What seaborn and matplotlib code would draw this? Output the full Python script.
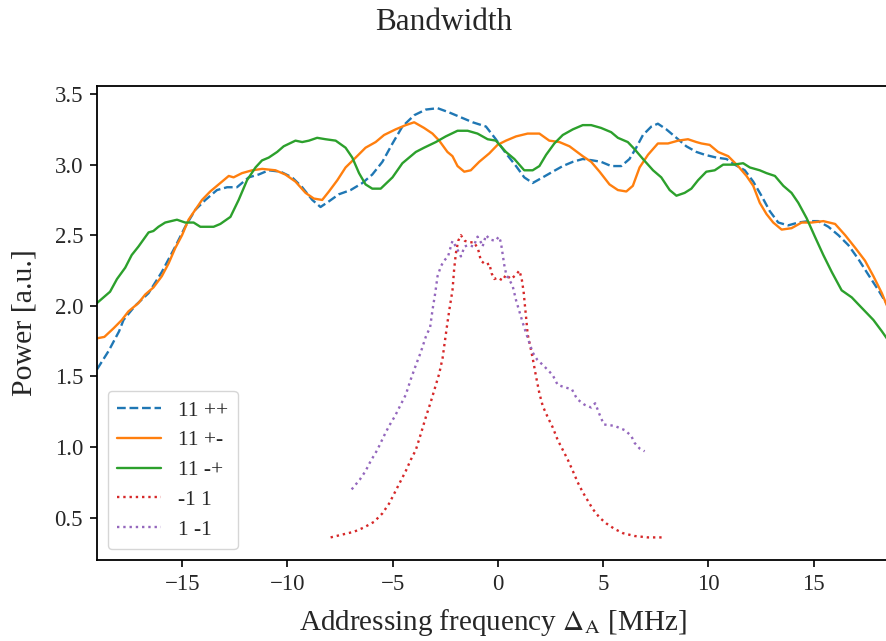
import numpy as np
import pandas as pd
import matplotlib
matplotlib.use("Agg")
import matplotlib.pyplot as plt
import seaborn as sns

# ---- data ----
x_pp = [-19.05, -18.5, -18.0, -17.79, -17.24, -16.6, -15.97, -15.33, -14.86, -14.38, -13.9, -13.35,
        -12.87, -12.4, -11.84, -11.37, -10.89, -10.33, -9.78, -9.3, -8.82, -8.43, -8.03, -7.56,
        -7.0, -6.44, -5.97, -5.49, -5.01, -4.54, -3.98, -3.43, -2.87, -2.32, -1.68, -1.2, -0.57,
        -0.1, 0.38, 0.86, 1.25, 1.65, 2.13, 2.6, 3.08, 3.56, 4.03, 4.51, 4.9, 5.38, 5.86, 6.25,
        6.57, 6.89, 7.29, 7.6, 8.0, 8.48, 8.95, 9.43, 9.83, 10.38, 10.86, 11.25, 11.73, 12.13,
        12.52, 12.92, 13.32, 13.79, 14.27, 14.75, 15.22, 15.7, 16.18, 16.65, 17.13, 17.6, 18.08, 18.57]
y_pp = [1.55, 1.68, 1.82, 1.90, 2.00, 2.09, 2.24, 2.42, 2.56, 2.68, 2.75, 2.82,
        2.84, 2.84, 2.91, 2.93, 2.96, 2.95, 2.91, 2.84, 2.75, 2.70, 2.74, 2.79,
        2.82, 2.87, 2.93, 3.02, 3.15, 3.27, 3.35, 3.39, 3.40, 3.37, 3.33, 3.30, 3.27,
        3.18, 3.08, 2.99, 2.91, 2.87, 2.91, 2.95, 2.99, 3.02, 3.04, 3.03, 3.02, 2.99, 2.99, 3.04,
        3.12, 3.21, 3.27, 3.29, 3.25, 3.19, 3.13, 3.09, 3.07, 3.05, 3.04, 3.00, 2.96, 2.88,
        2.78, 2.67, 2.59, 2.57, 2.59, 2.60, 2.60, 2.56, 2.50, 2.43, 2.33, 2.22, 2.11, 1.99]

x_pm = [-19.05, -18.7, -18.27, -17.87, -17.56, -17.08, -16.76, -16.37, -15.97, -15.65, -15.33,
        -15.01, -14.7, -14.38, -14.06, -13.67, -13.19, -12.79, -12.56, -12.16, -11.68, -11.2,
        -10.57, -10.1, -9.62, -9.14, -8.75, -8.35, -8.03, -7.63, -7.24, -6.76, -6.29, -5.81,
        -5.41, -4.86, -4.38, -3.98, -3.51, -3.11, -2.79, -2.4, -2.16, -1.92, -1.6, -1.29, -0.89,
        -0.41, -0.02, 0.38, 0.86, 1.41, 1.97, 2.44, 2.92, 3.4, 4.03, 4.43, 4.83, 5.3, 5.7, 6.1,
        6.41, 6.73, 7.13, 7.6, 8.08, 8.56, 9.03, 9.43, 9.67, 10.06, 10.46, 10.94, 11.41, 11.81,
        12.13, 12.44, 12.76, 13.08, 13.48, 13.95, 14.43, 14.9, 15.46, 16.02, 16.5, 16.98,
        17.44, 17.84, 18.24, 18.57]
y_pm = [1.77, 1.78, 1.84, 1.90, 1.96, 2.02, 2.08, 2.13, 2.21, 2.30, 2.41,
        2.50, 2.61, 2.68, 2.75, 2.81, 2.87, 2.92, 2.91, 2.94, 2.96, 2.97,
        2.96, 2.93, 2.88, 2.80, 2.76, 2.75, 2.81, 2.89, 2.98, 3.05, 3.12, 3.16,
        3.21, 3.25, 3.28, 3.30, 3.26, 3.22, 3.17, 3.09, 3.06, 2.99, 2.95, 2.96, 3.02,
        3.08, 3.14, 3.17, 3.20, 3.22, 3.22, 3.17, 3.16, 3.13, 3.06, 3.02, 2.95, 2.86, 2.82, 2.81,
        2.85, 2.98, 3.07, 3.15, 3.15, 3.17, 3.18, 3.16, 3.15, 3.14, 3.09, 3.06, 2.99, 2.92,
        2.85, 2.73, 2.65, 2.59, 2.54, 2.55, 2.59, 2.59, 2.60, 2.58, 2.50, 2.41,
        2.32, 2.21, 2.09, 1.97]

x_mp = [-19.05, -18.43, -18.1, -17.71, -17.4, -17.08, -16.6, -16.37, -16.13, -15.81, -15.25,
        -14.86, -14.46, -14.14, -13.51, -13.19, -12.71, -12.32, -11.92, -11.52, -11.21, -10.89,
        -10.49, -10.18, -9.62, -9.3, -8.98, -8.59, -8.19, -7.71, -7.24, -6.92, -6.6, -6.29,
        -5.97, -5.57, -5.01, -4.54, -4.14, -3.9, -3.51, -2.95, -2.48, -1.92, -1.44, -0.97,
        -0.49, -0.1, 0.38, 0.78, 1.25, 1.65, 1.97, 2.29, 2.68, 3.08, 3.56, 4.03, 4.43, 4.9,
        5.38, 5.7, 6.17, 6.49, 6.89, 7.37, 7.76, 8.16, 8.48, 8.87, 9.19, 9.51, 9.9, 10.3, 10.7,
        11.18, 11.65, 11.97, 12.44, 12.76, 13.16, 13.56, 13.95, 14.27, 14.67, 15.06, 15.46,
        15.86, 16.33, 16.81, 17.13, 17.84, 18.24, 18.57]
y_mp = [2.02, 2.10, 2.19, 2.27, 2.36, 2.42, 2.52, 2.53, 2.56, 2.59, 2.61,
        2.59, 2.59, 2.56, 2.56, 2.58, 2.63, 2.75, 2.89, 2.98, 3.03, 3.05,
        3.09, 3.13, 3.17, 3.16, 3.17, 3.19, 3.18, 3.17, 3.12, 3.05, 2.94, 2.86,
        2.83, 2.83, 2.91, 3.01, 3.06, 3.09, 3.12, 3.16, 3.20, 3.24, 3.24, 3.22,
        3.18, 3.17, 3.09, 3.04, 2.96, 2.96, 2.99, 3.07, 3.15, 3.21, 3.25, 3.28, 3.28, 3.26,
        3.23, 3.19, 3.16, 3.11, 3.04, 2.96, 2.91, 2.82, 2.78, 2.80, 2.83, 2.89, 2.95, 2.96, 3.00,
        3.00, 3.01, 2.98, 2.96, 2.94, 2.92, 2.85, 2.80, 2.73, 2.62, 2.49, 2.36,
        2.24, 2.11, 2.06, 2.01, 1.90, 1.82, 1.75]

x_m1 = [-7.95, -7.4, -6.84, -6.37, -5.89, -5.49, -5.17, -4.86, -4.62, -4.38, -4.14, -3.9, -3.67,
        -3.43, -3.19, -2.95, -2.79, -2.63, -2.52, -2.4, -2.29, -2.16, -2.08, -2.0, -1.89, -1.76,
        -1.57, -1.32, -1.13, -0.94, -0.81, -0.57, -0.41, -0.3, -0.17, -0.02, 0.22, 0.38, 0.62,
        0.86, 1.02, 1.13, 1.22, 1.29, 1.35, 1.41, 1.54, 1.65, 1.81, 1.97, 2.13, 2.37, 2.6, 2.84,
        3.08, 3.32, 3.56, 3.79, 4.03, 4.27, 4.51, 4.83, 5.14, 5.54, 5.94, 6.49, 7.13, 7.92]
y_m1 = [0.36, 0.38, 0.40, 0.43, 0.47, 0.53, 0.60, 0.69, 0.76, 0.83, 0.91, 0.98, 1.09,
        1.21, 1.32, 1.44, 1.52, 1.63, 1.75, 1.88, 1.99, 2.11, 2.26, 2.37, 2.46, 2.50,
        2.46, 2.45, 2.45, 2.40, 2.32, 2.29, 2.30, 2.23, 2.19, 2.20, 2.18, 2.22, 2.19,
        2.22, 2.25, 2.19, 2.10, 1.99, 1.90, 1.80, 1.71, 1.63, 1.50, 1.38, 1.29, 1.21, 1.14, 1.05,
        0.98, 0.91, 0.83, 0.75, 0.68, 0.62, 0.56, 0.50, 0.46, 0.42, 0.39, 0.37, 0.36, 0.36]

x_1m = [-6.95, -6.56, -6.29, -6.05, -5.73, -5.41, -5.17, -4.89, -4.62, -4.38, -4.14, -3.9, -3.67,
        -3.43, -3.22, -3.11, -2.98, -2.87, -2.71, -2.56, -2.37, -2.24, -2.16, -2.0, -1.76, -1.68,
        -1.6, -1.4, -1.16, -0.97, -0.81, -0.73, -0.57, -0.37, -0.13, 0.05, 0.14, 0.22, 0.3, 0.41,
        0.49, 0.7, 0.86, 1.02, 1.18, 1.33, 1.49, 1.65, 1.86, 2.21, 2.6, 2.84, 3.24, 3.51, 3.76,
        4.11, 4.43, 4.62, 4.83, 5.03, 5.54, 6.02, 6.33, 6.49, 6.73, 6.97]
y_1m = [0.70, 0.77, 0.83, 0.90, 0.98, 1.08, 1.15, 1.22, 1.30, 1.37, 1.48, 1.58, 1.67,
        1.78, 1.85, 1.97, 2.09, 2.21, 2.28, 2.32, 2.35, 2.42, 2.46, 2.42, 2.35, 2.38,
        2.42, 2.43, 2.42, 2.49, 2.45, 2.42, 2.50, 2.47, 2.46, 2.49, 2.45, 2.37, 2.29, 2.21,
        2.20, 2.14, 2.04, 1.96, 1.88, 1.81, 1.74, 1.67, 1.62, 1.57, 1.51, 1.44, 1.42, 1.41, 1.34,
        1.30, 1.28, 1.31, 1.23, 1.16, 1.15, 1.12, 1.08, 1.03, 0.99, 0.97]

labels = ["11 ++", "11 +-", "11 -+", "-1 1", "1 -1"]
colors = ["#1f77b4", "#ff7f0e", "#2ca02c", "#d62728", "#9467bd"]
styles = ["--", "-", "-", ":", ":"]
xs = [x_pp, x_pm, x_mp, x_m1, x_1m]
ys = [y_pp, y_pm, y_mp, y_m1, y_1m]

sns.set_theme(style="ticks")
plt.rcParams["font.family"] = ["Liberation Serif", "DejaVu Serif"]
plt.rcParams["mathtext.fontset"] = "stix"
plt.rcParams["axes.unicode_minus"] = True

fig = plt.figure(figsize=(8.87, 6.41), dpi=100)
ax = fig.add_axes([97 / 887, 1 - 560 / 641, 1.0 - 97 / 887 + 0.002, (560 - 86) / 641])

for x, y, lab, c, ls in zip(xs, ys, labels, colors, styles):
    df = pd.DataFrame({"x": x, "y": y})
    sns.lineplot(data=df, x="x", y="y", ax=ax, color=c, linestyle=ls, linewidth=1.7,
                 label=lab, sort=False, estimator=None)

ax.set_xlim(-19.05, 18.57)
ax.set_ylim(0.20, 3.557)
ax.set_xticks([-15, -10, -5, 0, 5, 10, 15])
ax.set_yticks([0.5, 1.0, 1.5, 2.0, 2.5, 3.0, 3.5])
ax.set_yticklabels(["0.5", "1.0", "1.5", "2.0", "2.5", "3.0", "3.5"])
ax.tick_params(axis="both", labelsize=16.5, length=5, width=1.2, color="black",
               direction="out", pad=5)
for sp in ax.spines.values():
    sp.set_color("black")
    sp.set_linewidth(1.3)
ax.spines["right"].set_visible(False)

ax.set_xlabel(r"Addressing frequency $\Delta_\mathrm{A}$ [MHz]", fontsize=21, labelpad=9)
ax.set_ylabel("Power [a.u.]", fontsize=21.5, labelpad=12)
fig.suptitle("Bandwidth", fontsize=22.5, y=0.988)

leg = ax.legend(loc="lower left", fontsize=15.5, frameon=True, framealpha=0.8,
                edgecolor="#cccccc", fancybox=True, handlelength=2.0, borderpad=0.45,
                labelspacing=0.45)

fig.savefig("out.png", dpi=100)
